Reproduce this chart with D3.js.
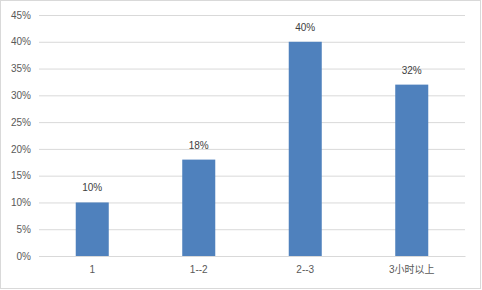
<!DOCTYPE html>
<html><head><meta charset="utf-8">
<script src="https://cdn.jsdelivr.net/npm/d3@7"></script>
<style>body{margin:0;background:#fff}</style>
</head><body>
<script>
const categories = ["1", "1--2", "2--3", "3小时以上"];
const values = [0.10, 0.18, 0.40, 0.32];
const yTicks = [0, 0.05, 0.10, 0.15, 0.20, 0.25, 0.30, 0.35, 0.40, 0.45];

(function () {
const W = 482, H = 290;
const svg = d3.select("body").append("svg").attr("width", W).attr("height", H);
svg.append("rect").attr("x", 0.5).attr("y", 0.5).attr("width", W - 2).attr("height", H - 2)
  .attr("fill", "#fff").attr("stroke", "#d9d9d9");

const pLeft = 39, pRight = 465, pTop = 15, pBottom = 256;
const x = d3.scaleBand().domain(categories).range([pLeft, pRight]).paddingInner(0.69).paddingOuter(0.345);
const y = d3.scaleLinear().domain([0, 0.45]).range([pBottom, pTop]);
const font = "'Liberation Sans', Arial, 'Noto Sans CJK SC', sans-serif";

const yAxis = d3.axisLeft(y).tickValues(yTicks).tickFormat(d3.format(".0%")).tickSize(-(pRight - pLeft)).tickPadding(8);
const gy = svg.append("g").attr("transform", `translate(${pLeft},0)`).call(yAxis);
gy.select(".domain").remove();
gy.selectAll(".tick line").attr("stroke", "#d9d9d9");
gy.selectAll(".tick text").attr("fill", "#595959").attr("font-size", 10).attr("font-family", font);

svg.selectAll("rect.bar").data(values).enter().append("rect").attr("class", "bar")
  .attr("x", (d, i) => x(categories[i])).attr("width", x.bandwidth())
  .attr("y", d => y(d)).attr("height", d => pBottom - y(d)).attr("fill", "#4F81BD");

svg.selectAll("text.val").data(values).enter().append("text").attr("class", "val")
  .attr("x", (d, i) => x(categories[i]) + x.bandwidth() / 2).attr("y", d => y(d) - 11)
  .attr("text-anchor", "middle").attr("fill", "#404040").attr("font-size", 10).attr("font-family", font)
  .text(d => d3.format(".0%")(d));

const xAxis = d3.axisBottom(x).tickSize(0).tickPadding(10);
const gx = svg.append("g").attr("transform", `translate(0,${pBottom})`).call(xAxis);
gx.select(".domain").attr("stroke", "#d9d9d9");
gx.selectAll(".tick text").attr("fill", "#595959").attr("font-size", 10).attr("font-family", font);
})();
</script>
</body></html>
